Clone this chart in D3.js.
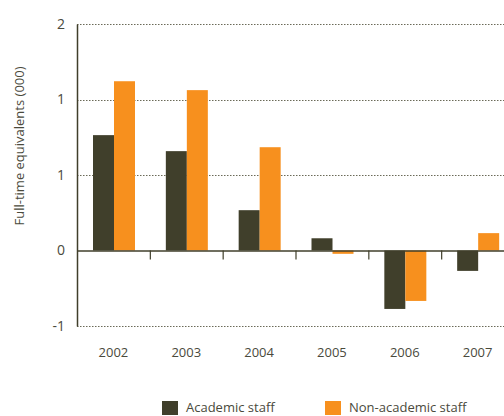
<!DOCTYPE html>
<html>
<head>
<meta charset="utf-8">
<script src="https://cdn.jsdelivr.net/npm/d3@7"></script>
<style>
  html, body { margin: 0; padding: 0; background: #fff; }
  svg text { font-family: "Open Sans", "Noto Sans", sans-serif; fill: #4a4a3c; }
</style>
</head>
<body>
<svg id="chart" width="504" height="416"></svg>
<script>
// Change in full-time equivalent staff, thousands
const years = ["2002", "2003", "2004", "2005", "2006", "2007"];
const academic = [0.764, 0.658, 0.267, 0.081, -0.387, -0.135];
const nonAcademic = [1.121, 1.062, 0.684, -0.022, -0.334, 0.115];
const seriesNames = ["Academic staff", "Non-academic staff"];
const seriesColors = ["#403f2b", "#f7901e"];
const yTicks = [1.5, 1.0, 0.5, 0, -0.5];

const svg = d3.select("#chart");
const plotLeft = 77, plotRight = 514, plotTop = 24, plotBottom = 326;

const x = d3.scaleBand().domain(years).range([plotLeft, plotRight]).paddingInner(0).paddingOuter(0);
const y = d3.scaleLinear().domain([-0.5, 1.5]).range([plotBottom, plotTop]);
const inner = d3.scaleBand().domain([0, 1]).range([0, 42]);

// Whole-number labels rounded half away from zero
const fmt = v => String(Math.sign(v) * Math.round(Math.abs(v)));

// dotted gridlines
svg.append("g")
  .selectAll("line")
  .data(yTicks.filter(t => t !== 0))
  .join("line")
  .attr("x1", plotLeft).attr("x2", plotRight)
  .attr("y1", d => Math.round(y(d)) + 0.5).attr("y2", d => Math.round(y(d)) + 0.5)
  .attr("stroke", "#6b6a58")
  .attr("stroke-width", 1.2)
  .attr("stroke-dasharray", "1.5,1.5");

// y axis
const yAxis = d3.axisLeft(y).tickValues(yTicks).tickFormat(fmt).tickSize(0).tickPadding(12);
const gy = svg.append("g").attr("transform", `translate(${plotLeft},0)`).call(yAxis);
gy.select(".domain").attr("stroke", "#403f2b").attr("stroke-width", 1.5);
gy.selectAll("text").style("font-size", "14px").attr("fill", "#4a4a3c");

// bars
const series = [academic, nonAcademic];
const bars = svg.append("g");
series.forEach((vals, si) => {
  bars.selectAll(null)
    .data(vals.map((v, i) => ({ year: years[i], v })))
    .join("rect")
    .attr("x", d => x(d.year) + 16 + inner(si))
    .attr("width", inner.bandwidth())
    .attr("y", d => y(Math.max(0, d.v)))
    .attr("height", d => Math.abs(y(d.v) - y(0)))
    .attr("fill", seriesColors[si]);
});

// zero axis with category ticks
const xAxis = d3.axisBottom(x).tickSize(0).tickFormat("");
const gx = svg.append("g").attr("transform", `translate(0,${y(0)})`).call(xAxis);
gx.select(".domain").attr("stroke", "#403f2b").attr("stroke-width", 1.6);
gx.selectAll(".sep")
  .data(years.slice(1))
  .join("line")
  .attr("class", "sep")
  .attr("x1", d => x(d) + 0.5).attr("x2", d => x(d) + 0.5)
  .attr("y1", 0).attr("y2", 9)
  .attr("stroke", "#403f2b").attr("stroke-width", 1.2);

// year labels
svg.append("g")
  .selectAll("text")
  .data(years)
  .join("text")
  .attr("x", d => x(d) + x.bandwidth() / 2)
  .attr("y", 357)
  .attr("text-anchor", "middle")
  .style("font-size", "13px")
  .text(d => d);

// y-axis title
svg.append("text")
  .attr("transform", "translate(24,146) rotate(-90)")
  .attr("text-anchor", "middle")
  .style("font-size", "13px")
  .text("Full-time equivalents (000)");

// legend
const legendX = [162, 325];
const lg = svg.append("g");
seriesNames.forEach((name, i) => {
  lg.append("rect")
    .attr("x", legendX[i]).attr("y", 401)
    .attr("width", 16).attr("height", 14)
    .attr("fill", seriesColors[i]);
  lg.append("text")
    .attr("x", legendX[i] + 24).attr("y", 412)
    .style("font-size", "13px")
    .text(name);
});
</script>
</body>
</html>
